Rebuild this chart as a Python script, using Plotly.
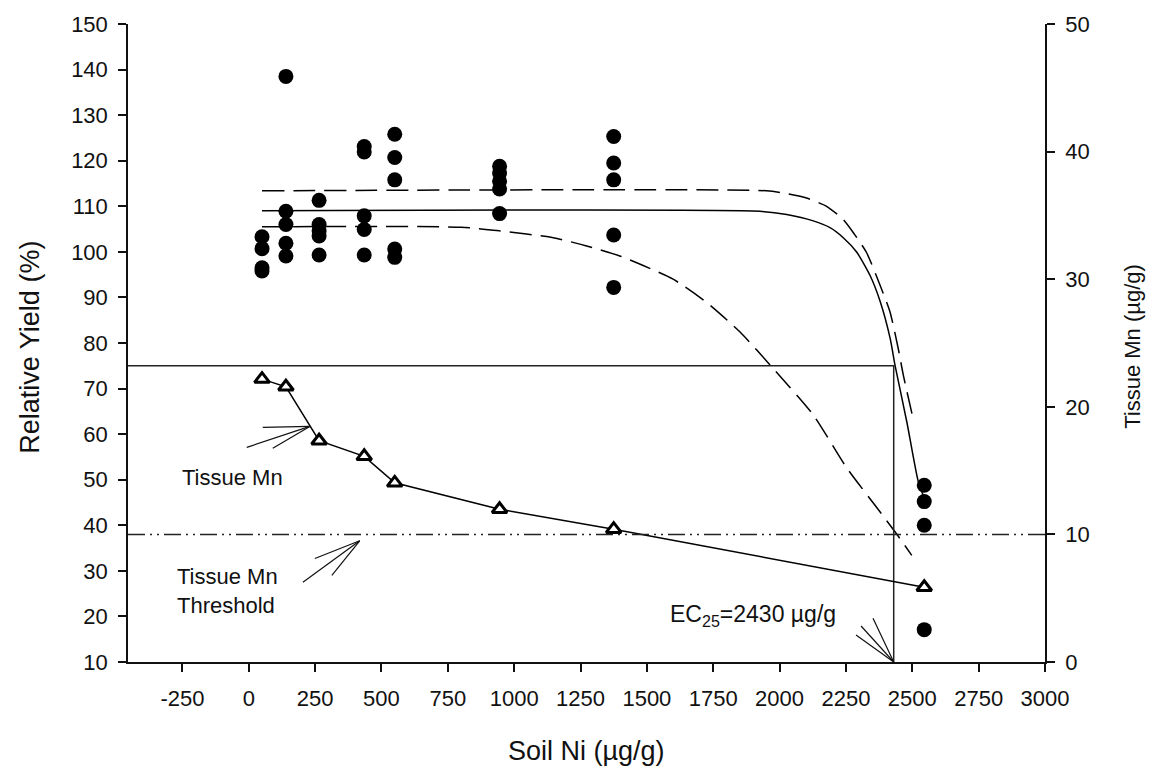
import plotly.graph_objects as go

# ---------------- data ----------------
soil_ni_levels = [50, 140, 265, 435, 550, 945, 1375, 2545]

yield_by_level = {
    50:   [103.3, 100.7, 96.5, 95.8],
    140:  [138.5, 108.9, 106.0, 101.9, 99.1],
    265:  [111.3, 106.0, 104.6, 103.5, 99.3],
    435:  [123.1, 121.9, 107.9, 104.9, 99.3],
    550:  [125.8, 120.7, 115.8, 100.6, 98.8],
    945:  [118.8, 117.3, 115.5, 113.8, 108.4],
    1375: [125.3, 119.5, 115.8, 103.7, 92.2],
    2545: [48.8, 45.2, 40.0, 17.1],
}

tissue_mn = [22.17, 21.57, 17.34, 16.12, 14.04, 11.97, 10.41, 5.86]

fit_x = [50, 1926, 2027, 2127, 2190, 2240, 2291, 2341, 2379, 2417, 2435, 2480, 2522, 2545]
fit_y = [109.0, 108.9, 108.2, 106.8, 105.3, 103.1, 99.9, 94.8, 89.1, 80.9, 75.1, 62.5, 49.7, 46.0]

upper_x = [50, 1950, 2014, 2102, 2177, 2240, 2278, 2328, 2379, 2416, 2447, 2466, 2503]
upper_y = [113.4, 113.4, 112.9, 111.8, 110.0, 107.1, 104.2, 99.8, 92.6, 86.8, 78.8, 73.0, 63.4]

lower_x = [50, 800, 946, 1147, 1273, 1398, 1486, 1599, 1725, 1851, 1976, 2127, 2253, 2366, 2441, 2498]
lower_y = [105.5, 105.4, 104.6, 103.1, 101.3, 99.1, 97.0, 94.0, 88.9, 82.4, 74.4, 64.2, 52.6, 43.9, 38.1, 33.4]

ec25 = 2430
ec25_yield = 75
mn_threshold = 10

x_range = [-455, 3000]
x_ticks = list(range(-250, 3001, 250))
x_ticktext = [str(v) for v in x_ticks]
y_range = [10, 150]
y2_range = [0, 50]

FONT = "Liberation Sans, Arial, sans-serif"

# ---------------- figure ----------------
fig = go.Figure()

circ_x, circ_y = [], []
for lvl in soil_ni_levels:
    for v in yield_by_level[lvl]:
        circ_x.append(lvl)
        circ_y.append(v)

# fit + confidence lines
fig.add_trace(go.Scatter(x=upper_x, y=upper_y, mode="lines", line_shape="spline",
                         line=dict(color="black", width=1.5, dash="22px,9px", smoothing=0.6),
                         showlegend=False, hoverinfo="skip"))
fig.add_trace(go.Scatter(x=lower_x, y=lower_y, mode="lines", line_shape="spline",
                         line=dict(color="black", width=1.5, dash="22px,9px", smoothing=0.6),
                         showlegend=False, hoverinfo="skip"))
fig.add_trace(go.Scatter(x=fit_x, y=fit_y, mode="lines", line_shape="spline",
                         line=dict(color="black", width=1.5, smoothing=0.6),
                         showlegend=False, hoverinfo="skip"))

# EC25 guide lines
fig.add_trace(go.Scatter(x=[x_range[0], ec25, ec25], y=[ec25_yield, ec25_yield, y_range[0]],
                         mode="lines", line=dict(color="#222", width=1.5),
                         showlegend=False, hoverinfo="skip"))

# yield data
fig.add_trace(go.Scatter(x=circ_x, y=circ_y, mode="markers",
                         marker=dict(symbol="circle", size=15, color="black"),
                         showlegend=False))

# tissue Mn (right axis)
fig.add_trace(go.Scatter(x=soil_ni_levels, y=tissue_mn, yaxis="y2", mode="lines+markers",
                         line=dict(color="black", width=1.5),
                         marker=dict(symbol="triangle-up", size=13, color="white",
                                     line=dict(color="black", width=3)),
                         showlegend=False))

shapes = []
# threshold line (dash-dot-dot)
shapes.append(dict(type="line", xref="paper", x0=0, x1=1, yref="y2", y0=mn_threshold, y1=mn_threshold,
                   line=dict(color="#222", width=1.5, dash="17px,5px,2px,5px,2px,5px")))

# arrow strokes (fan style)
arrows = [
    ((230, 61.7), [(52.8, 61.5), (-7.5, 57.1), (90.5, 56.9)]),
    ((418, 36.6), [(249, 32.7), (204, 27.5), (313, 29.0)]),
    ((ec25, 10.0), [(2288, 15.9), (2307, 17.9), (2352, 19.6)]),
]
for tip, ends in arrows:
    for e in ends:
        shapes.append(dict(type="line", xref="x", yref="y", x0=e[0], y0=e[1], x1=tip[0], y1=tip[1],
                           line=dict(color="#111", width=1.2)))

annotations = [
    dict(text="Tissue Mn", x=-60, y=50.4, xref="x", yref="y", showarrow=False,
         xanchor="center", yanchor="middle", font=dict(size=22, family=FONT, color="#111")),
    dict(text="Tissue Mn<br>Threshold", x=-279, y=25.5, xref="x", yref="y", showarrow=False,
         xanchor="left", yanchor="middle", align="left", font=dict(size=22, family=FONT, color="#111")),
    dict(text="EC<sub>25</sub>=2430 µg/g", x=1579, y=20.3, xref="x", yref="y", showarrow=False,
         xanchor="left", yanchor="middle", font=dict(size=23, family=FONT, color="#111")),
    dict(text="Soil Ni (µg/g)", x=0.5005, y=-0.140, xref="paper", yref="paper", showarrow=False,
         xanchor="center", yanchor="middle", font=dict(size=27, family=FONT, color="#111")),
    dict(text="Relative Yield (%)", x=-0.107, y=0.494, xref="paper", yref="paper", showarrow=False,
         textangle=-90, xanchor="center", yanchor="middle", font=dict(size=27, family=FONT, color="#111")),
    dict(text="Tissue Mn (µg/g)", x=1.096, y=0.494, xref="paper", yref="paper", showarrow=False,
         textangle=-90, xanchor="center", yanchor="middle", font=dict(size=22, family=FONT, color="#111")),
]

axis_common = dict(showgrid=False, zeroline=False, showline=True, linecolor="#111", linewidth=1.5,
                   ticks="outside", ticklen=8, tickwidth=1.5, tickcolor="#111",
                   tickfont=dict(size=22, family=FONT, color="#111"))

fig.update_layout(
    width=1155, height=773,
    margin=dict(l=128, r=110, t=20, b=111),
    plot_bgcolor="white", paper_bgcolor="white",
    xaxis=dict(range=x_range, tickvals=x_ticks, ticktext=x_ticktext, ticklabelstandoff=8, **axis_common),
    yaxis=dict(range=y_range, tickmode="linear", tick0=10, dtick=10, ticklabelstandoff=6, **axis_common),
    yaxis2=dict(range=y2_range, overlaying="y", side="right", tickmode="linear", tick0=0, dtick=10,
                ticklabelstandoff=6, **axis_common),
    shapes=shapes,
    annotations=annotations,
    showlegend=False,
)

fig.write_html("out.html")
